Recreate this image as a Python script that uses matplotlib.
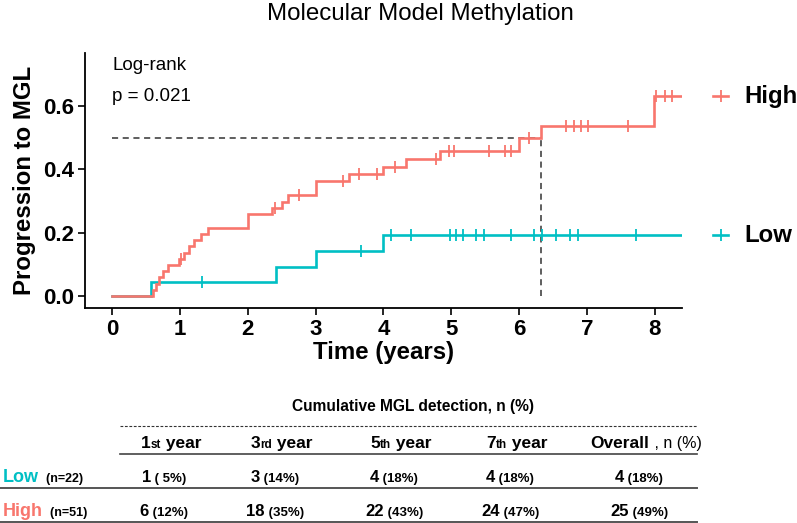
import matplotlib
matplotlib.use('Agg')
import matplotlib.pyplot as plt
from matplotlib.lines import Line2D
import numpy as np

plt.rcParams['font.family'] = ['Liberation Sans', 'DejaVu Sans']

# Kaplan-Meier style cumulative incidence
high_times = [0, 0.60, 0.64, 0.69, 0.75, 0.83, 0.98, 1.06, 1.13, 1.21, 1.31, 1.41,
              2.00, 2.35, 2.50, 2.60, 3.00, 3.49, 4.00, 4.33, 4.83, 6.00, 6.33, 7.99]
high_values = [0, 0.020, 0.039, 0.059, 0.078, 0.098, 0.118, 0.137, 0.157, 0.176, 0.196, 0.216,
               0.258, 0.278, 0.297, 0.318, 0.363, 0.386, 0.407, 0.432, 0.456, 0.497, 0.537, 0.630]
high_censor = [1.02, 2.40, 2.76, 3.41, 3.64, 3.90, 4.17, 4.77, 4.96, 5.04, 5.55, 5.79, 5.88,
               6.14, 6.69, 6.81, 6.92, 7.02, 7.61, 8.02, 8.15, 8.26]
high_end = 8.40

low_times = [0, 0.58, 2.41, 3.00, 4.00]
low_values = [0, 0.045, 0.092, 0.141, 0.192]
low_censor = [1.33, 3.67, 4.11, 4.41, 4.98, 5.07, 5.18, 5.37, 5.48, 5.88, 6.22, 6.34,
              6.55, 6.75, 6.87, 7.73]
low_end = 8.40

median_time = 6.33
median_level = 0.5

# table contents
col_numbers = ['1', '3', '5', '7']
col_suffix = ['st', 'rd', 'th', 'th']
low_counts = ['1', '3', '4', '4', '4']
low_pcts = ['( 5%)', '(14%)', '(18%)', '(18%)', '(18%)']
high_counts = ['6', '18', '22', '24', '25']
high_pcts = ['(12%)', '(35%)', '(43%)', '(47%)', '(49%)']

RED = '#F8766D'
TEAL = '#00BFC4'

W, H = 797, 523
fig = plt.figure(figsize=(W / 100, H / 100), dpi=100)
ax = fig.add_axes([85 / W, 1 - 307.7 / H, (681.8 - 85) / W, (307.7 - 53) / H])


def step_value(times, values, t):
    idx = np.searchsorted(times, t, side='right') - 1
    return np.array(values)[idx]


def draw_curve(times, values, end, censor, color):
    xs = list(times) + [end]
    ys = list(values) + [values[-1]]
    ax.step(xs, ys, where='post', color=color, lw=1.9, solid_joinstyle='miter', zorder=3)
    cy = step_value(times, values, censor)
    ax.plot(censor, cy, ls='none', marker='|', ms=8, mew=1.3, color=color, zorder=3)


draw_curve(low_times, low_values, low_end, low_censor, TEAL)
draw_curve(high_times, high_values, high_end, high_censor, RED)

# median lines
ax.plot([0, median_time], [median_level, median_level], ls=(0, (4, 3)), color='#333333', lw=1.1, zorder=2)
ax.plot([median_time, median_time], [0, median_level], ls=(0, (4, 3)), color='#333333', lw=1.1, zorder=2)

ax.set_xlim(-0.4, 8.4)
ax.set_ylim(-0.0365, 0.7665)
ax.set_xticks(range(0, 9))
ax.set_yticks([0.0, 0.2, 0.4, 0.6])
ax.set_yticklabels(['0.0', '0.2', '0.4', '0.6'])
for s in ['top', 'right']:
    ax.spines[s].set_visible(False)
for s in ['left', 'bottom']:
    ax.spines[s].set_linewidth(1.3)
ax.tick_params(axis='both', length=5, width=1.2, labelsize=16, pad=3)
for lab in ax.get_xticklabels() + ax.get_yticklabels():
    lab.set_fontweight('bold')
ax.set_xlabel('Time (years)', fontsize=17.3, fontweight='bold', labelpad=1)
ax.set_ylabel('Progression to MGL', fontsize=17.3, fontweight='bold', labelpad=5)

ax.text(0, 0.728, 'Log-rank', fontsize=13.5, va='center', ha='left')
ax.text(0, 0.63, 'p = 0.021', fontsize=13.5, va='center', ha='left')

# end-of-curve legend
for label, color, val in [('High', RED, high_values[-1]), ('Low', TEAL, low_values[-1])]:
    ax.add_line(Line2D([1.053, 1.078], [val, val], transform=ax.get_yaxis_transform(),
                       color=color, lw=1.9, clip_on=False))
    ax.plot([1.0655], [val], transform=ax.get_yaxis_transform(), marker='|', ms=8, mew=1.3,
            color=color, clip_on=False)
    ax.text(1.105, val, label, transform=ax.get_yaxis_transform(), fontsize=17.3,
            fontweight='bold', va='center', ha='left')

fig.text(420 / W, 1 - 14 / H, 'Molecular Model Methylation', fontsize=17.4, ha='center', va='center')

# ---------- table ----------
renderer = fig.canvas.get_renderer()


def rich(x, y, pieces, ha='center'):
    # pieces: (text, size, color, weight); x, y in pixels from top-left, y is baseline
    arts = []
    widths = []
    for txt, size, color, weight in pieces:
        t = fig.text(0, 1 - y / H, txt, fontsize=size, color=color, fontweight=weight,
                     va='baseline', ha='left')
        widths.append(t.get_window_extent(renderer).width)
        arts.append(t)
    total = sum(widths)
    start = x - total / 2 if ha == 'center' else x
    for t, w in zip(arts, widths):
        t.set_x(start / W)
        start += w


def hline(x0, x1, y, **kw):
    fig.add_artist(Line2D([x0 / W, x1 / W], [1 - y / H, 1 - y / H], **kw))


rich(413, 411, [('Cumulative MGL detection, n (%)', 11.2, 'black', 'bold')])
hline(120, 697, 426, color='#333333', lw=0.8, ls=(0, (2.5, 1.5)))

col_x = [171, 282, 401, 517, 646]
for i in range(4):
    rich(col_x[i], 448, [(col_numbers[i], 12.5, 'black', 'bold'), (col_suffix[i], 8.5, 'black', 'bold'),
                         (' year', 12.5, 'black', 'bold')])
rich(col_x[4], 448, [('Overall', 12.5, 'black', 'bold'), (' , n (%)', 11.5, 'black', 'normal')])
hline(120, 697, 454, color='#444444', lw=1.2)

rich(3, 482, [('Low', 13, TEAL, 'bold'), ('  (n=22)', 9, 'black', 'bold')], ha='left')
rich(3, 516, [('High', 13, RED, 'bold'), ('  (n=51)', 9, 'black', 'bold')], ha='left')
for i in range(5):
    rich(col_x[i] - 7, 482, [(low_counts[i], 12, 'black', 'bold'), (' ' + low_pcts[i], 9.5, 'black', 'bold')])
    rich(col_x[i] - 7, 516, [(high_counts[i], 12, 'black', 'bold'), (' ' + high_pcts[i], 9.5, 'black', 'bold')])
hline(0, 697, 488, color='#555555', lw=1.4)
hline(0, 697, 522, color='#555555', lw=1.4)

fig.savefig('out.png', dpi=100)
